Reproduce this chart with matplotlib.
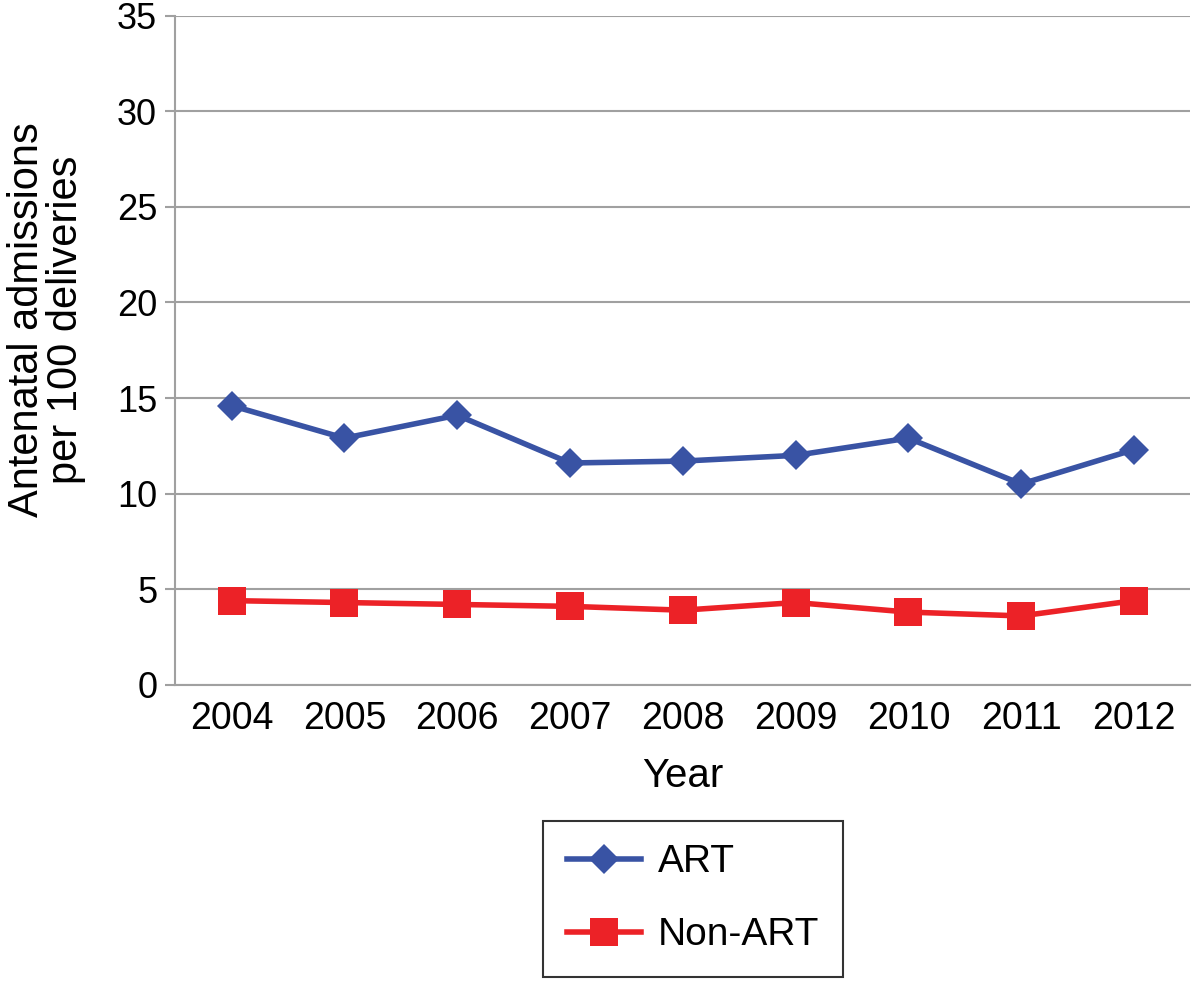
import numpy as np
import matplotlib.pyplot as plt

plt.rcParams['font.family'] = ['Liberation Sans', 'DejaVu Sans']

years = ['2004', '2005', '2006', '2007', '2008', '2009', '2010', '2011', '2012']
art = [14.6, 12.9, 14.1, 11.6, 11.7, 12.0, 12.9, 10.5, 12.3]
non_art = [4.4, 4.3, 4.2, 4.1, 3.9, 4.3, 3.8, 3.6, 4.4]

blue = '#3953a4'
red = '#ec2227'
grey = '#a0a0a0'

fig = plt.figure(figsize=(12, 9.81), dpi=100)
ax = fig.add_axes([0.146, 0.302, 0.846, 0.682])

x = np.arange(len(years))
ax.plot(x, art, color=blue, lw=4, marker='D', ms=15, mew=0, label='ART')
ax.plot(x, non_art, color=red, lw=4, marker='s', ms=19.5, mew=0, label='Non-ART')

ax.set_xlim(-0.5, len(years) - 0.5)
ax.set_ylim(0, 35)
ax.set_yticks(range(0, 36, 5))
ax.set_xticks(x)
ax.set_xticklabels(years)
ax.yaxis.grid(True, color=grey, lw=1.5)
ax.set_axisbelow(True)

for s in ['top', 'right']:
    ax.spines[s].set_visible(False)
for s in ['left', 'bottom']:
    ax.spines[s].set_color(grey)
    ax.spines[s].set_linewidth(1.5)

ax.tick_params(axis='y', length=7, width=1.5, color=grey, labelsize=26, pad=6)
ax.tick_params(axis='x', length=0, labelsize=27, pad=12)

ax.set_xlabel('Year', fontsize=29, labelpad=14)
ax.set_ylabel('Antenatal admissions\nper 100 deliveries', fontsize=30, linespacing=0.95)
ax.yaxis.set_label_coords(-0.088, 0.545)

leg = fig.legend(loc='upper center', bbox_to_anchor=(0.5775, 0.163), fontsize=28,
                 frameon=True, fancybox=False, handlelength=1.9, borderpad=0.6,
                 labelspacing=0.95, handletextpad=0.45, borderaxespad=0)
leg.get_frame().set_edgecolor('black')
leg.get_frame().set_linewidth(1.5)

fig.savefig('out.png', dpi=100)
